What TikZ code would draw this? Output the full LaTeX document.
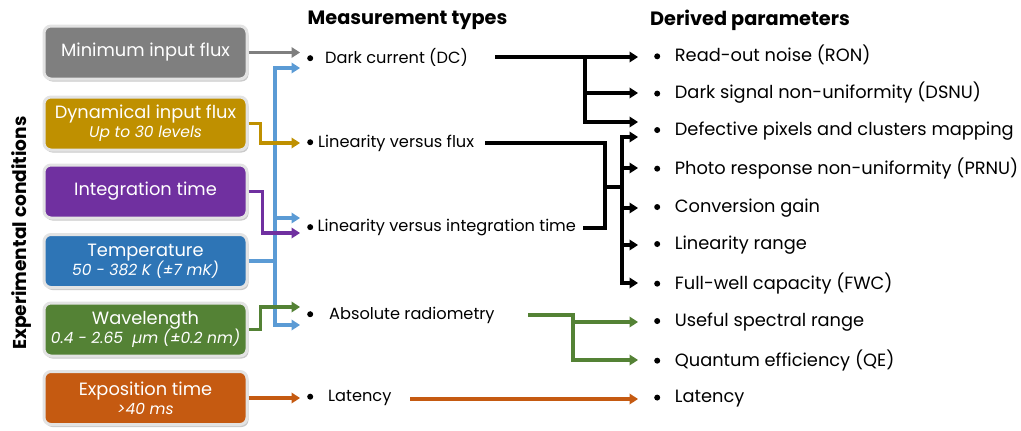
\documentclass[tikz,border=0pt]{standalone}
\usepackage{fontspec}
\setmainfont{Poppins}
\usetikzlibrary{arrows.meta,shadows}
\definecolor{cgray}{HTML}{7F7F7F}
\definecolor{cgold}{HTML}{BF9000}
\definecolor{cpurple}{HTML}{7030A0}
\definecolor{cblue}{HTML}{2E75B6}
\definecolor{cgreen}{HTML}{548235}
\definecolor{corange}{HTML}{C55A11}
\definecolor{clblue}{HTML}{5B9BD5}
\newcommand{\bul}{\tikz[baseline=-0.3em]\fill (0,0) circle (3pt);}
\begin{document}
\begin{tikzpicture}[x=1pt,y=-1pt,
  cbox/.style={rounded corners=7pt, minimum width=203pt, minimum height=53pt,
    draw=gray!22, line width=3pt, text=white, align=center, inner sep=0pt,
    font=\fontsize{17.8}{22}\selectfont,
    drop shadow={shadow xshift=1.5pt, shadow yshift=-2.5pt, fill=gray!60, opacity=0.7}},
  meas/.style={anchor=west, inner sep=0pt, font=\fontsize{16.2}{19}\selectfont},
  der/.style={anchor=west, inner sep=0pt, font=\fontsize{17.8}{21}\selectfont},
  head/.style={font=\bfseries\fontsize{19.3}{23}\selectfont, inner sep=0pt},
  conn/.style={line width=3.2pt, line join=miter},
  tip/.style={conn, -{Triangle[length=8.5pt,width=10.5pt]}},
]
\useasboundingbox (0,0) rectangle (1021,431);

% vertical label
\node[head, font=\bfseries\fontsize{18.6}{22}\selectfont, rotate=90] (expc) at (22,233) {Experimental conditions};

% condition boxes
\node[cbox, fill=cgray]   (mif)  at (145.5,52.5)  {Minimum input flux};
\node[cbox, fill=cgold]   (dif)  at (145.5,123.5) {Dynamical input flux\\[-3pt]{\itshape\fontsize{15.5}{18}\selectfont Up to 30 levels}};
\node[cbox, fill=cpurple] (itm)  at (145.5,191.5) {Integration time};
\node[cbox, fill=cblue]   (tmp)  at (145.5,261)   {Temperature\\[-3pt]{\itshape\fontsize{15.5}{18}\selectfont 50 - 382 K (±7 mK)}};
\node[cbox, fill=cgreen]  (wav)  at (145.5,329.5) {Wavelength\\[-3pt]{\itshape\fontsize{15.5}{18}\selectfont 0.4 - 2.65\ \ µm (±0.2 nm)}};
\node[cbox, fill=corange] (exp)  at (145.5,398)   {Exposition time\\[-3pt]{\itshape\fontsize{15.5}{18}\selectfont >40 ms}};

% headings
\node[head] (hmt) at (407.5,20) {Measurement types};
\node[head] (hdp) at (750,20) {Derived parameters};

% measurement types
\node[meas] (dc)  at (300,57)  {\hspace{7pt}\bul\hspace{12pt}Dark current (DC)};
\node[meas] (lvf) at (300,143) {\hspace{7pt}\bul\hspace{5pt}Linearity versus flux};
\node[meas] (lit) at (300,228) {\hspace{7pt}\bul\hspace{4.5pt}Linearity versus integration time};
\node[meas] (abs) at (300,315) {\hspace{7pt}\bul\hspace{16pt}Absolute radiometry};
\node[meas] (lat) at (300,398) {\hspace{7pt}\bul\hspace{15pt}Latency};

% derived parameters
\node[der] (ron)  at (638,55)  {\hspace{16pt}\bul\hspace{14.7pt}Read-out noise (RON)};
\node[der] (dsnu) at (638,93)  {\hspace{16pt}\bul\hspace{14.7pt}Dark signal non-uniformity (DSNU)};
\node[der] (dpm)  at (638,131) {\hspace{16pt}\bul\hspace{14.7pt}Defective pixels and clusters mapping};
\node[der] (prnu) at (638,168) {\hspace{16pt}\bul\hspace{14.7pt}Photo response non-uniformity (PRNU)};
\node[der] (cg)   at (638,208) {\hspace{16pt}\bul\hspace{14.7pt}Conversion gain};
\node[der] (lr)   at (638,245) {\hspace{16pt}\bul\hspace{14.7pt}Linearity range};
\node[der] (fwc)  at (638,283) {\hspace{16pt}\bul\hspace{14.7pt}Full-well capacity (FWC)};
\node[der] (usr)  at (638,322) {\hspace{16pt}\bul\hspace{14.7pt}Useful spectral range};
\node[der] (qe)   at (638,360) {\hspace{16pt}\bul\hspace{14.7pt}Quantum efficiency (QE)};
\node[der] (lat2) at (638,399) {\hspace{16pt}\bul\hspace{14.7pt}Latency};

% ---- inputs to measurement types
\draw[tip, cgray] (mif.east) -- (mif.east -| dc.west);
\coordinate (bj) at (275,261);
\draw[conn, clblue] (tmp.east) -- (bj);
\draw[tip, clblue] (bj) |- ([yshift=-11pt]dc.west);
\draw[tip, clblue] (bj) |- ([yshift=10pt]lit.west);
\draw[tip, clblue] (bj) |- ([yshift=-10pt]abs.west);
\draw[tip, cgold] (dif.east) -- ++(12,0) |- (lvf.west);
\draw[tip, cpurple] (itm.east) -- ++(14,0) |- ([yshift=-5pt]lit.west);
\draw[tip, cgreen] (wav.east) -- ++(12,0) |- ([yshift=8pt]abs.west);
\draw[tip, corange] (exp.east) -- (lat.west);

% ---- measurement types to derived parameters
\coordinate (dco) at (495,57);
\coordinate (dcb) at (585,57);
\draw[tip] (dco) -- (dco -| ron.west);
\draw[tip] (dcb) |- (dsnu.west);
\draw[tip] (dcb) |- ([yshift=9pt]dpm.west);

\coordinate (lfo) at (485,143);
\coordinate (lio) at (583,228);
\coordinate (lb1) at (605,187);
\coordinate (lb2) at (622,187);
\draw[conn] (lfo) -| (lio -| lb1) -- (lio);
\draw[conn] (lb1) -- (lb2);
\draw[tip] (lb2) |- ([yshift=-6pt]dpm.west);
\draw[tip] (lb2) |- (prnu.west);
\draw[tip] (lb2) |- (cg.west);
\draw[tip] (lb2) |- (lr.west);
\draw[tip] (lb2) |- (fwc.west);

\coordinate (aro) at (528,315);
\coordinate (arb) at (573,315);
\draw[tip, cgreen] (aro) -- (arb) |- (usr.west);
\draw[tip, cgreen] (arb) |- (qe.west);

\coordinate (lato) at (410,399);
\draw[tip, corange] (lato) -- (lat2.west);
\end{tikzpicture}
\end{document}
